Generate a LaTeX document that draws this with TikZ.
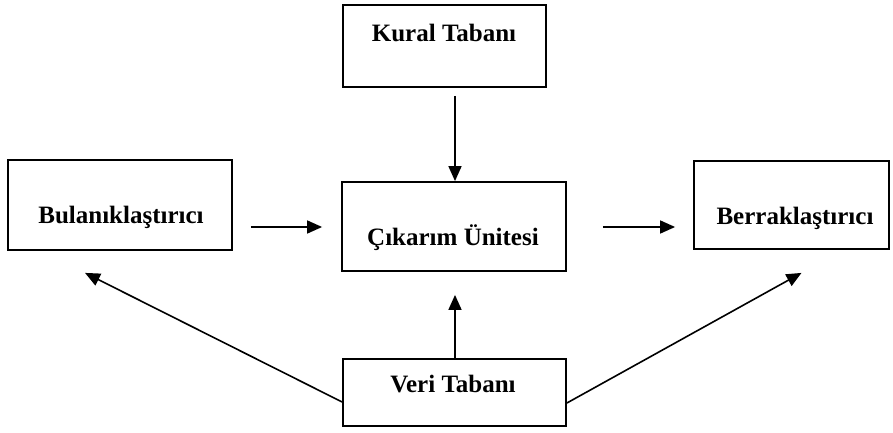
\documentclass[tikz,border=0pt]{standalone}
\usepackage{fontspec}
\setmainfont{Liberation Serif}
\usetikzlibrary{arrows.meta,calc}
\begin{document}
\begin{tikzpicture}[x=1pt,y=-1pt,
  box/.style={draw,line width=1.8pt,inner sep=0pt},
  lbl/.style={font=\fontsize{25}{30}\selectfont\bfseries,inner sep=0pt},
  arr/.style={line width=1.6pt,-{Triangle[length=15pt,width=13pt]}}]
\useasboundingbox (0,0) rectangle (893,433);
\node[box,minimum width=203pt,minimum height=82pt] (kural) at (444.5,46) {};
\node[box,minimum width=224pt,minimum height=90pt] (bul) at (120,205) {};
\node[box,minimum width=224pt,minimum height=89pt] (cik) at (454,226.5) {};
\node[box,minimum width=195pt,minimum height=88pt] (ber) at (791.5,205) {};
\node[box,minimum width=223pt,minimum height=67pt] (veri) at (454.5,392.5) {};
\node[lbl] (tk) at (444,33) {Kural Tabanı};
\node[lbl] (tb) at (121,217) {Bulanıklaştırıcı};
\node[lbl] (tc) at (453,238) {Çıkarım Ünitesi};
\node[lbl] (tr) at (795,218) {Berraklaştırıcı};
\node[lbl] (tv) at (453,384) {Veri Tabanı};
\coordinate (k1) at ($(kural.south)+(10.5,8)$);
\draw[arr] (k1) -- (k1 |- cik.north);
\coordinate (b1) at ($(bul.east)+(18,22)$);
\coordinate (b2) at ($(cik.west)+(-19,0.5)$);
\draw[arr] (b1) -- (b1 -| b2);
\coordinate (c1) at ($(cik.east)+(36,0.5)$);
\coordinate (c2) at ($(ber.west)+(-18,22)$);
\draw[arr] (c1) -- (c1 -| c2);
\coordinate (v1) at ($(veri.north)+(0.5,0)$);
\coordinate (v2) at ($(cik.south)+(1,23)$);
\draw[arr] (v1) -- (v1 |- v2);
\coordinate (vl) at ($(veri.west)+(0,9.5)$);
\coordinate (bl) at ($(bul.south)+(-35,22)$);
\draw[arr] (vl) -- (bl);
\coordinate (vr) at ($(veri.east)+(0,10.5)$);
\coordinate (br) at ($(ber.south)+(10,23)$);
\draw[arr] (vr) -- (br);
\end{tikzpicture}
\end{document}
